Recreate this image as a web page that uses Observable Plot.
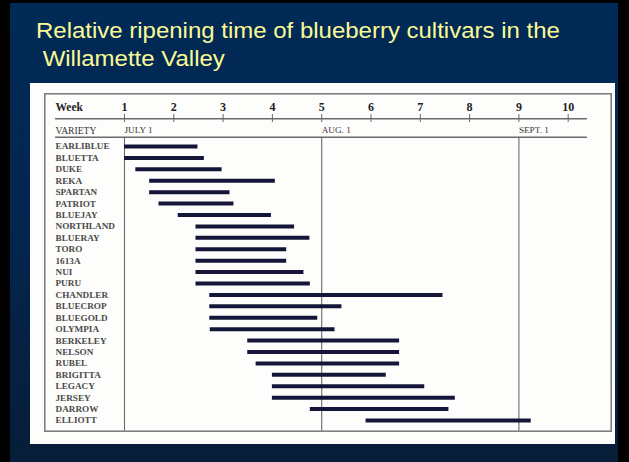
<!DOCTYPE html>
<html>
<head>
<meta charset="utf-8">
<script src="https://cdn.jsdelivr.net/npm/d3@7"></script>
<script src="https://cdn.jsdelivr.net/npm/@observablehq/plot@0.6"></script>
<style>
  html, body { margin: 0; padding: 0; }
  body {
    width: 629px; height: 462px; overflow: hidden; position: relative;
    background: #000;
  }
  #slide {
    position: absolute; left: 10px; top: 3px; width: 608px; height: 459px;
    background: linear-gradient(#012a56 0%, #032650 45%, #071d38 100%);
  }
  #title {
    position: absolute; left: 36px; top: 16.5px;
    font-family: "Liberation Sans", Arial, sans-serif; font-size: 22px;
    line-height: 28.4px; color: #fafa96; white-space: pre;
    transform: scaleX(1.09); transform-origin: 0 0;
  }
  #panel {
    position: absolute; left: 30px; top: 83px; width: 585px; height: 361px;
    background: #fdfdfc;
  }
  #panel svg { overflow: visible; display: block; }
</style>
</head>
<body>
<div id="slide"></div>
<div id="title">Relative ripening time of blueberry cultivars in the
 Willamette Valley</div>
<div id="panel"></div>
<script>
const varieties = ["EARLIBLUE","BLUETTA","DUKE","REKA","SPARTAN","PATRIOT","BLUEJAY","NORTHLAND","BLUERAY","TORO","1613A","NUI","PURU","CHANDLER","BLUECROP","BLUEGOLD","OLYMPIA","BERKELEY","NELSON","RUBEL","BRIGITTA","LEGACY","JERSEY","DARROW","ELLIOTT"];
const startWeek = [1.0,1.0,1.23,1.51,1.51,1.70,2.09,2.45,2.45,2.45,2.45,2.45,2.45,2.73,2.73,2.73,2.74,3.50,3.50,3.67,4.0,4.0,4.0,4.77,5.90];
const endWeek = [2.49,2.62,2.98,4.06,3.14,3.22,3.98,4.45,4.76,4.29,4.29,4.64,4.77,7.46,5.41,4.92,5.27,6.58,6.58,6.58,6.31,7.09,7.71,7.58,9.25];
const weeks = [1,2,3,4,5,6,7,8,9,10];
const monthLabels = ["JULY 1","AUG. 1","SEPT. 1"];
const monthWeeks = [1,5,9];

const rows = varieties.map((v, i) => ({variety: v, row: i, start: startWeek[i], end: endWeek[i]}));
const months = monthLabels.map((m, i) => ({label: m, week: monthWeeks[i]}));

const serif = "Liberation Serif, Times New Roman, serif";
const lineColor = "#6a6a6a";
const textColor = "#333333";

const chart = Plot.plot({
  width: 585,
  height: 361,
  marginLeft: 94,
  marginRight: 47.3,
  marginTop: 63,
  marginBottom: 24,
  style: {background: "transparent", fontFamily: serif, overflow: "visible"},
  x: {domain: [1, 10], axis: null},
  y: {domain: [0, 24], reverse: true, axis: null},
  marks: [
    // outer gray frame of the scanned chart
    Plot.frame({stroke: "#808080", strokeWidth: 1.6, insetLeft: -79.7, insetRight: -43, insetTop: -52.7, insetBottom: -10.7}),
    // week axis line and header separator
    Plot.ruleY([-2.43], {x1: -0.40, x2: 10.39, stroke: lineColor, strokeWidth: 1.3}),
    Plot.ruleY([-0.81], {x1: -0.40, x2: 10.39, stroke: lineColor, strokeWidth: 1.3}),
    // week tick marks
    Plot.ruleX(weeks, {x: d => d, y1: -2.80, y2: -2.10, stroke: lineColor, strokeWidth: 1}),
    // month reference lines
    Plot.ruleX(months, {x: "week", y1: -0.81, y2: 24.94, stroke: lineColor, strokeWidth: 1.1}),
    // week numbers
    Plot.text(weeks, {x: d => d, y: -3.44, text: d => String(d), fontWeight: "bold", fontSize: 12, fill: "#222"}),
    Plot.text(["Week"], {frameAnchor: "left", y: -3.39, dx: -69, textAnchor: "start", text: d => d, fontWeight: "bold", fontSize: 11.5, fill: "#222"}),
    // header row
    Plot.text(["VARIETY"], {frameAnchor: "left", y: -1.40, dx: -69, textAnchor: "start", text: d => d, fontSize: 9.6, fill: textColor}),
    Plot.text(months, {x: "week", y: -1.40, text: "label", textAnchor: "start", fontSize: 9.2, fill: textColor}),
    // variety labels
    Plot.text(rows, {frameAnchor: "left", y: "row", dx: -69, textAnchor: "start", text: "variety", fontWeight: "bold", fontSize: 9.2, fill: "#4a4a4a"}),
    // ripening bars
    Plot.ruleY(rows, {y: "row", x1: "start", x2: "end", stroke: "#15153a", strokeWidth: 4})
  ]
});
document.getElementById("panel").appendChild(chart);
</script>
</body>
</html>
